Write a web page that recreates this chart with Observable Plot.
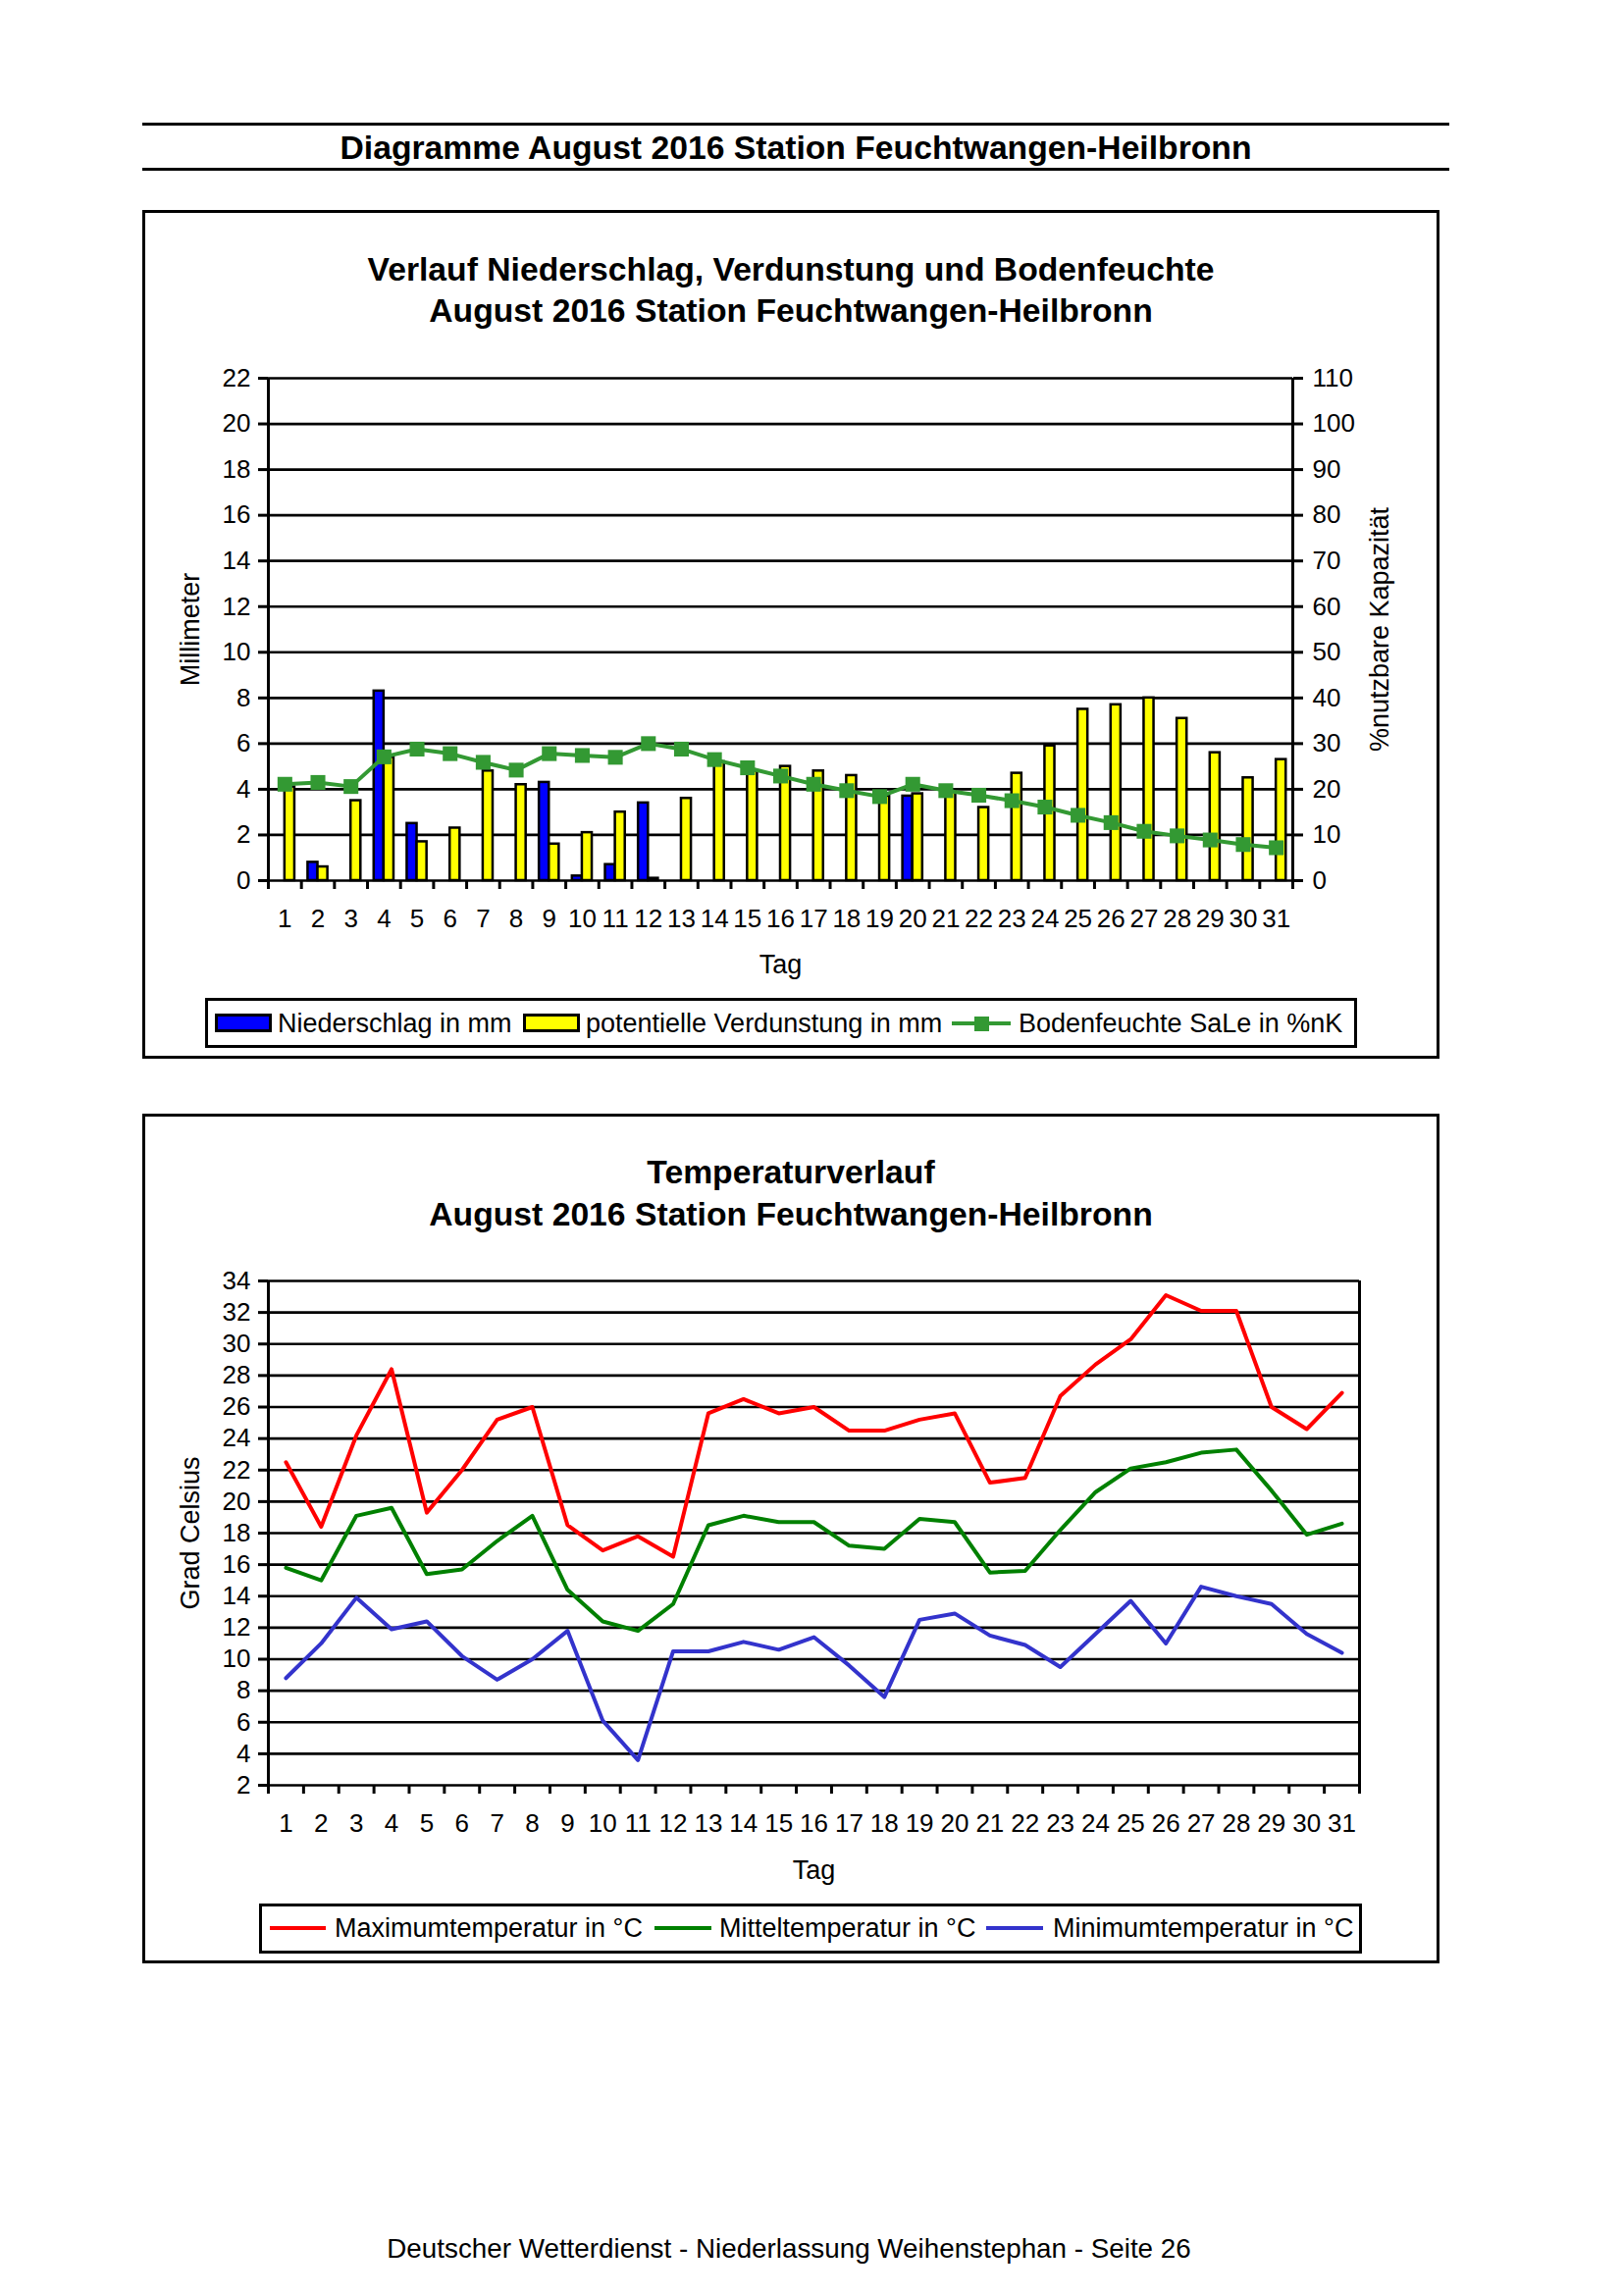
<!DOCTYPE html>
<html>
<head>
<meta charset="utf-8">
<script src="https://cdn.jsdelivr.net/npm/d3@7"></script>
<script src="https://cdn.jsdelivr.net/npm/@observablehq/plot@0.6"></script>
<style>
  html, body { margin: 0; padding: 0; background: #fff; }
  body { font-family: Arial, "Liberation Sans", sans-serif; color: #000; }
  #page { position: relative; width: 1653px; height: 2340px; overflow: hidden; background: #fff; }
  .abs { position: absolute; }
  .hline { position: absolute; left: 145px; width: 1332px; height: 3px; background: #000; }
  .box { position: absolute; border: 3px solid #000; box-sizing: border-box; }
  .t { position: absolute; white-space: nowrap; line-height: 40px; height: 40px; }
  .ttl { font-weight: bold; font-size: 33.7px; text-align: center; }
  .lg { font-size: 27px; }
  .plot { position: absolute; }
</style>
</head>
<body>
<div id="page">
  <div class="hline" style="top:125px"></div>
  <div class="t ttl" style="left:145px;width:1332px;top:130px;">Diagramme August 2016 Station Feuchtwangen-Heilbronn</div>
  <div class="hline" style="top:171px"></div>

  <!-- Chart 1 -->
  <div class="box" style="left:145px;top:214px;width:1322px;height:865px;"></div>
  <div class="t ttl" style="left:145px;width:1322px;top:254px;">Verlauf Niederschlag, Verdunstung und Bodenfeuchte</div>
  <div class="t ttl" style="left:145px;width:1322px;top:296px;">August 2016 Station Feuchtwangen-Heilbronn</div>
  <div id="plot1" class="plot" style="left:150px;top:345px;"></div>
  <div class="box" style="left:209px;top:1017px;width:1174px;height:51px;"></div>
  <div class="abs" style="left:219px;top:1033px;width:58px;height:19px;background:#0000ff;border:3px solid #000;box-sizing:border-box;"></div>
  <div class="t lg" style="left:283px;top:1023px;">Niederschlag in mm</div>
  <div class="abs" style="left:533px;top:1033px;width:58px;height:19px;background:#ffff00;border:3px solid #000;box-sizing:border-box;"></div>
  <div class="t lg" style="left:597px;top:1023px;">potentielle Verdunstung in mm</div>
  <div class="abs" style="left:970px;top:1041px;width:60px;height:4px;background:#339933;"></div>
  <div class="abs" style="left:993px;top:1036px;width:15px;height:15px;background:#339933;"></div>
  <div class="t lg" style="left:1038px;top:1023px;">Bodenfeuchte SaLe in %nK</div>

  <!-- Chart 2 -->
  <div class="box" style="left:145px;top:1135px;width:1322px;height:866px;"></div>
  <div class="t ttl" style="left:145px;width:1322px;top:1174px;">Temperaturverlauf</div>
  <div class="t ttl" style="left:145px;width:1322px;top:1217px;">August 2016 Station Feuchtwangen-Heilbronn</div>
  <div id="plot2" class="plot" style="left:150px;top:1265px;"></div>
  <div class="box" style="left:264px;top:1940px;width:1124px;height:51px;"></div>
  <div class="abs" style="left:275px;top:1963px;width:57px;height:4px;background:#ff0000;"></div>
  <div class="t lg" style="left:341px;top:1945px;">Maximumtemperatur in °C</div>
  <div class="abs" style="left:667px;top:1963px;width:58px;height:4px;background:#008000;"></div>
  <div class="t lg" style="left:733px;top:1945px;">Mitteltemperatur in °C</div>
  <div class="abs" style="left:1005px;top:1963px;width:58px;height:4px;background:#3333cc;"></div>
  <div class="t lg" style="left:1073px;top:1945px;">Minimumtemperatur in °C</div>

  <div class="t" style="left:0px;width:1608px;top:2272px;text-align:center;font-size:27.8px;">Deutscher Wetterdienst - Niederlassung Weihenstephan - Seite 26</div>
</div>

<script>
// ---------- DATA ----------
const days = [1,2,3,4,5,6,7,8,9,10,11,12,13,14,15,16,17,18,19,20,21,22,23,24,25,26,27,28,29,30,31];
// Niederschlag in mm
const precip = [0,0.8,0,8.3,2.5,0,0,0,4.3,0.2,0.7,3.4,0,0,0,0,0,0,0,3.7,0,0,0,0,0,0,0,0,0,0,0];
// potentielle Verdunstung in mm
const evap = [4.1,0.6,3.5,5.4,1.7,2.3,4.8,4.2,1.6,2.1,3.0,0.1,3.6,5.2,4.8,5.0,4.8,4.6,3.7,3.8,3.9,3.2,4.7,5.9,7.5,7.7,8.0,7.1,5.6,4.5,5.3];
// Bodenfeuchte SaLe in %nK
const soil = [21.1,21.5,20.6,27.1,28.8,27.8,25.9,24.2,27.8,27.4,27.0,30.0,28.8,26.5,24.7,22.9,21.1,19.7,18.4,21.1,19.7,18.7,17.5,16.1,14.3,12.7,10.8,9.8,8.9,7.9,7.2];
// Temperaturen in °C
const tmax = [22.5,18.4,24.2,28.4,19.3,22.0,25.2,26.0,18.5,16.9,17.8,16.5,25.6,26.5,25.6,26.0,24.5,24.5,25.2,25.6,21.2,21.5,26.7,28.7,30.3,33.1,32.1,32.1,26.0,24.6,26.9];
const tmean = [15.8,15.0,19.1,19.6,15.4,15.7,17.5,19.1,14.4,12.4,11.8,13.5,18.5,19.1,18.7,18.7,17.2,17.0,18.9,18.7,15.5,15.6,18.2,20.6,22.1,22.5,23.1,23.3,20.7,17.9,18.6];
const tmin = [8.8,11.0,13.9,11.9,12.4,10.2,8.7,10.0,11.8,6.1,3.6,10.5,10.5,11.1,10.6,11.4,9.6,7.6,12.5,12.9,11.5,10.9,9.5,11.6,13.7,11.0,14.6,14.0,13.5,11.6,10.4];

// tick labels
const mmTicks = [0,2,4,6,8,10,12,14,16,18,20,22];
const tempTicks = [2,4,6,8,10,12,14,16,18,20,22,24,26,28,30,32,34];
const soilPerMm = 5; // right axis: 110 %nK at 22 mm
const dayBounds = [0.5].concat(days.map(d => d + 0.5));

// ---------- STYLE ----------
const font = "Arial, 'Liberation Sans', sans-serif";
const baseStyle = {fontFamily: font, fontSize: "26px", color: "#000", background: "transparent", overflow: "visible"};
const barW = 0.3; // bar width in days

// ---------- CHART 1 ----------
const t1 = days.map((d, i) => ({day: d, precip: precip[i], evap: evap[i], soil: soil[i]}));
const p1 = Plot.plot({
  width: 1310, height: 660,
  marginLeft: 123, marginRight: 143, marginTop: 40, marginBottom: 108,
  x: {type: "linear", domain: [0.5, 31.5]},
  y: {type: "linear", domain: [0, 22]},
  style: baseStyle,
  marks: [
    Plot.ruleY(mmTicks, {stroke: "#000", strokeWidth: 2.7}),
    Plot.rect(t1.filter(d => d.precip > 0), {x1: d => d.day - barW, x2: "day", y1: 0, y2: "precip", fill: "#0000ff", stroke: "#000", strokeWidth: 2.5}),
    Plot.rect(t1, {x1: "day", x2: d => d.day + barW, y1: 0, y2: "evap", fill: "#ffff00", stroke: "#000", strokeWidth: 2.5}),
    Plot.ruleX([0.5, 31.5], {stroke: "#000", strokeWidth: 3}),
    Plot.line(t1, {x: "day", y: d => d.soil / soilPerMm, stroke: "#339933", strokeWidth: 4}),
    Plot.dot(t1, {x: "day", y: d => d.soil / soilPerMm, symbol: "square", r: 8.5, fill: "#339933"}),
    Plot.axisY({ticks: mmTicks, tickSize: 10, tickPadding: 8, fontSize: 26, strokeWidth: 3, label: null}),
    Plot.axisY({anchor: "right", ticks: mmTicks, tickFormat: d => String(d * soilPerMm), tickSize: 10, tickPadding: 10, fontSize: 26, strokeWidth: 3, label: null}),
    Plot.axisX({ticks: days, tickSize: 0, tickPadding: 29, fontSize: 26, label: null}),
    Plot.axisX({ticks: dayBounds, tickSize: 9, tickFormat: () => "", strokeWidth: 3, label: null}),
    Plot.text(["Millimeter"], {frameAnchor: "left", dx: -79, rotate: -90, textAnchor: "middle", lineAnchor: "middle", fontSize: 27}),
    Plot.text(["%nutzbare Kapazität"], {frameAnchor: "right", dx: 89, rotate: -90, textAnchor: "middle", lineAnchor: "middle", fontSize: 27}),
    Plot.text(["Tag"], {frameAnchor: "bottom", dy: 86, textAnchor: "middle", lineAnchor: "middle", fontSize: 27})
  ]
});
document.getElementById("plot1").appendChild(p1);

// ---------- CHART 2 ----------
const t2 = days.map((d, i) => ({day: d, tmax: tmax[i], tmean: tmean[i], tmin: tmin[i]}));
const p2 = Plot.plot({
  width: 1310, height: 665,
  marginLeft: 123, marginRight: 75, marginTop: 40, marginBottom: 111,
  x: {type: "linear", domain: [0.5, 31.5]},
  y: {type: "linear", domain: [2, 34]},
  style: baseStyle,
  marks: [
    Plot.ruleY(tempTicks, {stroke: "#000", strokeWidth: 2.7}),
    Plot.ruleX([0.5, 31.5], {stroke: "#000", strokeWidth: 3}),
    Plot.line(t2, {x: "day", y: "tmax", stroke: "#ff0000", strokeWidth: 4}),
    Plot.line(t2, {x: "day", y: "tmean", stroke: "#008000", strokeWidth: 4}),
    Plot.line(t2, {x: "day", y: "tmin", stroke: "#3333cc", strokeWidth: 4}),
    Plot.axisY({ticks: tempTicks, tickSize: 10, tickPadding: 8, fontSize: 26, strokeWidth: 3, label: null}),
    Plot.axisX({ticks: days, tickSize: 0, tickPadding: 29, fontSize: 26, label: null}),
    Plot.axisX({ticks: dayBounds, tickSize: 9, tickFormat: () => "", strokeWidth: 3, label: null}),
    Plot.text(["Grad Celsius"], {frameAnchor: "left", dx: -79, rotate: -90, textAnchor: "middle", lineAnchor: "middle", fontSize: 27}),
    Plot.text(["Tag"], {frameAnchor: "bottom", dy: 87, textAnchor: "middle", lineAnchor: "middle", fontSize: 27})
  ]
});
document.getElementById("plot2").appendChild(p2);
</script>
</body>
</html>
